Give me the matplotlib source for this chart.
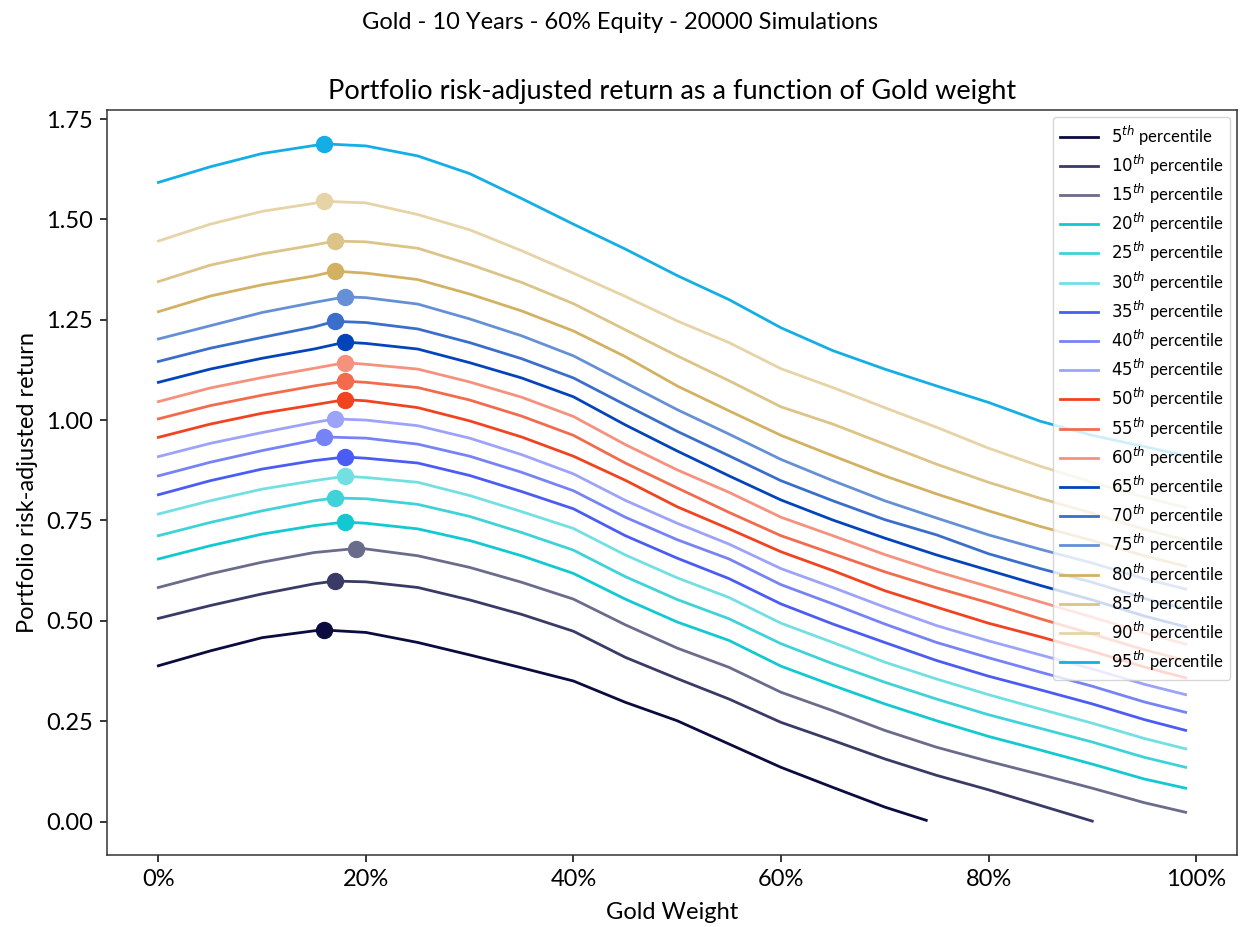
import matplotlib
matplotlib.use("Agg")
import matplotlib.pyplot as plt
import numpy as np
from matplotlib.ticker import FuncFormatter, MultipleLocator

plt.rcParams['font.family'] = ['Lato', 'DejaVu Sans']
plt.rcParams['mathtext.fontset'] = 'dejavusans'

# ---------------- data ----------------
weights = [0, 5, 10, 15, 20, 25, 30, 35, 40, 45, 50, 55, 60, 65, 70, 75, 80, 85, 90, 95, 99]
weights_p10 = [0, 5, 10, 15, 20, 25, 30, 35, 40, 45, 50, 55, 60, 65, 70, 75, 80, 85, 90]
weights_p05 = [0, 5, 10, 15, 20, 25, 30, 35, 40, 45, 50, 55, 60, 65, 70, 74]

percentiles = [5, 10, 15, 20, 25, 30, 35, 40, 45, 50, 55, 60, 65, 70, 75, 80, 85, 90, 95]

p05 = [0.388, 0.425, 0.458, 0.475, 0.471, 0.446, 0.415, 0.383, 0.350, 0.297, 0.251, 0.193, 0.135, 0.085, 0.036, 0.003]
p10 = [0.506, 0.538, 0.567, 0.592, 0.597, 0.583, 0.552, 0.516, 0.474, 0.409, 0.356, 0.305, 0.247, 0.202, 0.156, 0.115, 0.079, 0.040, 0.001]
p15 = [0.583, 0.617, 0.646, 0.670, 0.679, 0.662, 0.633, 0.596, 0.554, 0.490, 0.432, 0.384, 0.322, 0.276, 0.227, 0.185, 0.150, 0.117, 0.083, 0.047, 0.023]
p20 = [0.654, 0.687, 0.716, 0.737, 0.743, 0.729, 0.700, 0.662, 0.618, 0.554, 0.497, 0.451, 0.387, 0.339, 0.293, 0.251, 0.212, 0.178, 0.143, 0.106, 0.083]
p25 = [0.712, 0.745, 0.774, 0.799, 0.804, 0.790, 0.760, 0.720, 0.676, 0.610, 0.553, 0.505, 0.443, 0.393, 0.347, 0.305, 0.266, 0.232, 0.198, 0.160, 0.135]
p30 = [0.766, 0.799, 0.828, 0.849, 0.857, 0.845, 0.812, 0.772, 0.730, 0.664, 0.607, 0.558, 0.494, 0.446, 0.397, 0.355, 0.316, 0.280, 0.245, 0.207, 0.181]
p35 = [0.814, 0.849, 0.878, 0.899, 0.905, 0.893, 0.862, 0.822, 0.779, 0.712, 0.656, 0.605, 0.542, 0.492, 0.446, 0.401, 0.362, 0.328, 0.293, 0.254, 0.227]
p40 = [0.861, 0.895, 0.924, 0.950, 0.955, 0.940, 0.910, 0.870, 0.824, 0.758, 0.702, 0.654, 0.590, 0.542, 0.492, 0.446, 0.408, 0.372, 0.337, 0.298, 0.272]
p45 = [0.909, 0.942, 0.969, 0.994, 1.000, 0.986, 0.955, 0.914, 0.866, 0.800, 0.743, 0.691, 0.630, 0.583, 0.534, 0.488, 0.450, 0.415, 0.380, 0.342, 0.316]
p50 = [0.957, 0.990, 1.017, 1.038, 1.048, 1.031, 0.998, 0.958, 0.910, 0.850, 0.784, 0.729, 0.672, 0.625, 0.575, 0.534, 0.494, 0.460, 0.424, 0.385, 0.358]
p55 = [1.003, 1.036, 1.062, 1.085, 1.094, 1.081, 1.050, 1.010, 0.962, 0.893, 0.831, 0.770, 0.712, 0.667, 0.622, 0.582, 0.545, 0.505, 0.467, 0.428, 0.401]
p60 = [1.046, 1.080, 1.106, 1.129, 1.139, 1.127, 1.095, 1.057, 1.009, 0.939, 0.876, 0.820, 0.758, 0.712, 0.665, 0.623, 0.585, 0.547, 0.509, 0.470, 0.442]
p65 = [1.094, 1.127, 1.154, 1.177, 1.191, 1.177, 1.143, 1.105, 1.058, 0.988, 0.923, 0.861, 0.801, 0.751, 0.706, 0.664, 0.626, 0.588, 0.552, 0.512, 0.485]
p70 = [1.146, 1.179, 1.206, 1.232, 1.243, 1.227, 1.193, 1.153, 1.105, 1.038, 0.972, 0.911, 0.849, 0.799, 0.752, 0.714, 0.667, 0.630, 0.596, 0.556, 0.529]
p75 = [1.202, 1.235, 1.268, 1.293, 1.305, 1.289, 1.252, 1.210, 1.160, 1.093, 1.026, 0.965, 0.902, 0.849, 0.799, 0.756, 0.714, 0.678, 0.644, 0.605, 0.579]
p80 = [1.270, 1.309, 1.337, 1.359, 1.366, 1.350, 1.314, 1.272, 1.222, 1.158, 1.085, 1.023, 0.962, 0.911, 0.861, 0.816, 0.774, 0.735, 0.700, 0.662, 0.636]
p85 = [1.345, 1.386, 1.414, 1.436, 1.444, 1.428, 1.388, 1.343, 1.290, 1.225, 1.160, 1.098, 1.033, 0.990, 0.940, 0.890, 0.845, 0.805, 0.768, 0.728, 0.701]
p90 = [1.446, 1.488, 1.520, 1.540, 1.541, 1.512, 1.474, 1.422, 1.366, 1.308, 1.247, 1.193, 1.128, 1.081, 1.031, 0.982, 0.930, 0.885, 0.845, 0.808, 0.782]
p95 = [1.592, 1.631, 1.664, 1.684, 1.683, 1.658, 1.614, 1.552, 1.488, 1.426, 1.360, 1.300, 1.230, 1.173, 1.127, 1.085, 1.044, 0.997, 0.962, 0.934, 0.911]

# optimum (maximum) of each percentile curve
opt_weight = [16, 17, 19, 18, 17, 18, 18, 16, 17, 18, 18, 18, 18, 17, 18, 17, 17, 16, 16]
opt_value = [0.477, 0.599, 0.680, 0.746, 0.806, 0.860, 0.908, 0.958, 1.003, 1.051,
             1.097, 1.143, 1.194, 1.246, 1.307, 1.371, 1.446, 1.545, 1.688]

colors = ['#0b0b40', '#3a3a66', '#6b6b8c', '#12c9d1', '#3fd3d9', '#72e0e3',
          '#4a5cf4', '#7683f6', '#9ca3f9', '#f1431f', '#f26b4d', '#f6917e',
          '#0444bb', '#3a6ecb', '#6590d6', '#d3b163', '#dcc387', '#e6d3a6',
          '#14aee6']

series = [p05, p10, p15, p20, p25, p30, p35, p40, p45, p50,
          p55, p60, p65, p70, p75, p80, p85, p90, p95]
series_w = [weights_p05, weights_p10] + [weights] * 17

# ---------------- figure ----------------
fig = plt.figure(figsize=(12.4, 9.27), dpi=100)
ax = fig.add_axes([0.0863, 0.0777, 0.9113, 0.8036])

for pct, w, v, ow, ov, c in zip(percentiles, series_w, series, opt_weight, opt_value, colors):
    w = list(w)
    v = list(v)
    # merge the optimum point into the curve
    idx = int(np.searchsorted(w, ow))
    if idx < len(w) and w[idx] == ow:
        v[idx] = ov
    else:
        w.insert(idx, ow)
        v.insert(idx, ov)
    ax.plot(w, v, color=c, lw=2.0, label=r'$%d^{th}$ percentile' % pct, zorder=2)
    ax.plot([ow], [ov], 'o', color=c, ms=11.5, zorder=3)

ax.xaxis.set_major_locator(MultipleLocator(20))
ax.xaxis.set_major_formatter(FuncFormatter(lambda x, p: '%d%%' % round(x)))
ax.yaxis.set_major_locator(MultipleLocator(0.25))
ax.yaxis.set_major_formatter(FuncFormatter(lambda y, p: '%.2f' % y))
ax.tick_params(labelsize=17, length=5, width=1.1, pad=5)
for s in ax.spines.values():
    s.set_linewidth(1.1)
    s.set_color('#333333')

ax.set_xlabel('Gold Weight', fontsize=17, labelpad=9)
ax.set_ylabel('Portfolio risk-adjusted return', fontsize=17, labelpad=6)
ax.set_title('Portfolio risk-adjusted return as a function of Gold weight', fontsize=19.5, pad=8)
fig.suptitle('Gold - 10 Years - 60% Equity - 20000 Simulations', fontsize=17, y=0.976, va='center')

ax.legend(loc='upper right', fontsize=12, handlelength=2.3, labelspacing=0.3,
          borderaxespad=0.4)

fig.savefig('out.png', dpi=100)
